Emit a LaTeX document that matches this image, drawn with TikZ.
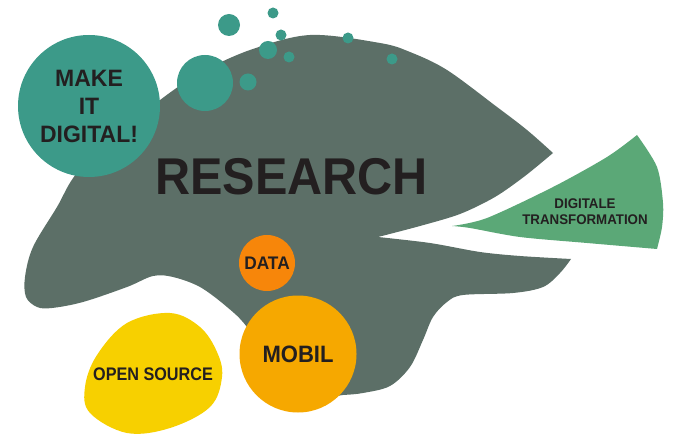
\documentclass[tikz,border=0pt]{standalone}
\usepackage{fontspec}
\usepackage{graphicx}
\setmainfont{Liberation Sans}
\definecolor{slate}{HTML}{5C6F67}
\definecolor{teal}{HTML}{3C9A89}
\definecolor{leaf}{HTML}{5BA877}
\definecolor{orangeD}{HTML}{F7860A}
\definecolor{amber}{HTML}{F6A800}
\definecolor{sun}{HTML}{F7D000}
\definecolor{ink}{HTML}{231F20}
\newcommand{\squeeze}[2]{\scalebox{#1}[1]{#2}}
\tikzset{
  bubble/.style={circle, fill=teal, draw=none, inner sep=0pt},
  disc/.style={circle, draw=none, inner sep=0pt, text=ink, font=\bfseries},
  label/.style={text=ink, font=\bfseries, inner sep=0pt, align=center}
}
\begin{document}
\begin{tikzpicture}[x=1pt,y=-1pt]
\useasboundingbox (0,0) rectangle (684,443);

% main research blob with the wedge-shaped gap on its right side
\fill[slate]
  plot[smooth, tension=0.55] coordinates {
    (553,153) (527,130) (497,107) (447,70) (410,52) (380,43) (310,35)
    (250,50) (200,73) (160,100) (120,133) (77,173) (57,207) (33,247)
    (25,277) (26,297) (37,307) (52,308) (83,302) (127,287) (153,276)
    (173,277) (200,287) (227,307) (247,327) (280,375) (320,396) (343,395)
    (363,393) (390,386) (410,367) (423,340) (433,317) (447,302) (463,295)
    (513,293) (543,287) (560,273) (571,259)}
  -- plot[smooth, tension=0.5] coordinates {
    (571,259) (520,256) (480,252) (430,243) (378,237)}
  -- plot[smooth, tension=0.5] coordinates {
    (378,237) (420,226) (460,214) (495,197) (525,176) (553,153)}
  -- cycle;

% scattered bubbles
\node[bubble, minimum size=56pt] (b1) at (205,83) {};
\node[bubble, minimum size=22pt] (b2) at (229,25) {};
\node[bubble, minimum size=11pt] (b3) at (273,13) {};
\node[bubble, minimum size=11pt] (b4) at (281,35) {};
\node[bubble, minimum size=18pt] (b5) at (268,50) {};
\node[bubble, minimum size=11pt] (b6) at (289,57) {};
\node[bubble, minimum size=17pt] (b7) at (248,82) {};
\node[bubble, minimum size=11pt] (b8) at (348,38) {};
\node[bubble, minimum size=11pt] (b9) at (392,59) {};

% make it digital
\node[disc, fill=teal, minimum size=142pt, align=center,
      font=\bfseries\fontsize{23.7}{28}\selectfont] (make) at (89,106)
  {\squeeze{0.97}{MAKE}\\\squeeze{0.97}{IT}\\\squeeze{0.97}{DIGITAL!}};

% digital transformation wedge
\fill[leaf]
  plot[smooth, tension=0.5] coordinates {
    (452,226) (487,218) (553,187) (607,157) (637,135)}
  -- plot[smooth, tension=0.5] coordinates {
    (637,135) (657,167) (663,203) (662,227) (657,249)}
  -- plot[smooth, tension=0.5] coordinates {
    (657,249) (587,243) (520,237) (470,228) (452,226)}
  -- cycle;

% open source blob
\fill[sun] plot[smooth cycle, tension=0.6] coordinates {
  (170,313) (127,323) (97,355) (85,387) (90,413) (127,433) (170,428)
  (210,407) (222,377) (217,352) (200,327)};

% data and mobil discs
\node[disc, fill=orangeD, minimum size=56pt,
      font=\bfseries\fontsize{18.2}{20}\selectfont] (data) at (267,263)
  {\squeeze{0.95}{DATA}};
\node[disc, fill=amber, minimum size=117pt,
      font=\bfseries\fontsize{23.7}{26}\selectfont] (mobil) at (298,354)
  {\squeeze{0.93}{MOBIL}};

% labels
\node[label, font=\bfseries\fontsize{51.7}{56}\selectfont] (research) at (291.5,176.5)
  {\squeeze{0.94}{RESEARCH}};
\node[label, font=\bfseries\fontsize{18.2}{20}\selectfont] (open) at (153,374.5)
  {\squeeze{0.89}{OPEN SOURCE}};
\node[label, font=\bfseries\fontsize{14}{16}\selectfont] (trans) at (585,212)
  {\squeeze{0.95}{DIGITALE}\\\squeeze{0.95}{TRANSFORMATION}};
\end{tikzpicture}
\end{document}
